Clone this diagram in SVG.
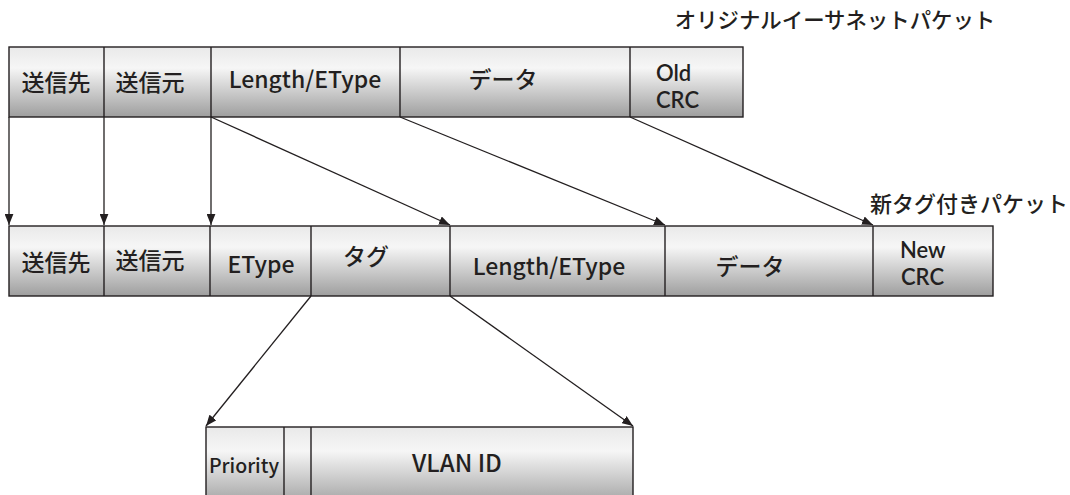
<svg xmlns="http://www.w3.org/2000/svg" width="1070" height="495" viewBox="0 0 1070 495">
<style>
.box{fill:url(#g);stroke:#231f20;stroke-width:1.4}
.div{stroke:#231f20;stroke-width:1.4}
.t{font-family:"Noto Sans CJK JP","Noto Sans",sans-serif;font-weight:500;fill:#231f20;text-anchor:middle}
.l{font-family:Lato,"Noto Sans",sans-serif;font-weight:600;font-size:22px;fill:#231f20;text-anchor:start}
.c{stroke:#231f20;stroke-width:1.3;fill:none;marker-end:url(#ah)}
</style>
<defs>
<linearGradient id="g" x1="0" y1="0" x2="0" y2="1">
<stop offset="0" stop-color="#e9e9e9"/>
<stop offset="0.3" stop-color="#f6f6f6"/>
<stop offset="1" stop-color="#9e9e9e"/>
</linearGradient>
<marker id="ah" viewBox="0 0 10 8" refX="10" refY="4" markerWidth="11" markerHeight="9" markerUnits="userSpaceOnUse" orient="auto">
<path d="M0,0 L10,4 L0,8 Z" fill="#231f20"/>
</marker>
</defs>

<text class="t" x="835" y="28" font-size="21.4">オリジナルイーサネットパケット</text>
<text class="t" x="969" y="212" font-size="22">新タグ付きパケット</text>

<g id="orig">
<rect class="box" x="9" y="47" width="734" height="70"/>
<line class="div" x1="104" y1="47" x2="104" y2="117"/>
<line class="div" x1="211" y1="47" x2="211" y2="117"/>
<line class="div" x1="400" y1="47" x2="400" y2="117"/>
<line class="div" x1="630" y1="47" x2="630" y2="117"/>
<text class="t" x="56" y="91" font-size="23">送信先</text>
<text class="t" x="150" y="91" font-size="23">送信元</text>
<text class="t" x="305" y="88" font-size="23">Length/EType</text>
<text class="t" x="503" y="88" font-size="23">データ</text>
<text class="l" x="656" y="81">Old</text>
<text class="l" x="656" y="108">CRC</text>
</g>

<g id="tagged">
<rect class="box" x="9" y="226" width="984" height="70"/>
<line class="div" x1="104" y1="226" x2="104" y2="296"/>
<line class="div" x1="210" y1="226" x2="210" y2="296"/>
<line class="div" x1="311" y1="226" x2="311" y2="296"/>
<line class="div" x1="450" y1="226" x2="450" y2="296"/>
<line class="div" x1="665" y1="226" x2="665" y2="296"/>
<line class="div" x1="873" y1="226" x2="873" y2="296"/>
<text class="t" x="56" y="271" font-size="23">送信先</text>
<text class="t" x="150" y="269" font-size="23">送信元</text>
<text class="t" x="261" y="273" font-size="23">EType</text>
<text class="t" x="366" y="265" font-size="23">タグ</text>
<text class="t" x="549" y="275" font-size="23">Length/EType</text>
<text class="t" x="750" y="275" font-size="23">データ</text>
<text class="l" x="900" y="258">New</text>
<text class="l" x="901" y="285">CRC</text>
</g>

<g id="tag">
<rect class="box" x="206" y="427" width="427" height="80"/>
<line class="div" x1="284" y1="427" x2="284" y2="507"/>
<line class="div" x1="311" y1="427" x2="311" y2="507"/>
<text class="t" x="244" y="473" font-size="19.5">Priority</text>
<text class="t" x="457" y="472" font-size="24">VLAN ID</text>
</g>

<g id="connectors">
<line class="c" x1="9" y1="117" x2="9" y2="225"/>
<line class="c" x1="104" y1="117" x2="104" y2="225"/>
<line class="c" x1="211" y1="117" x2="211" y2="225"/>
<line class="c" x1="211" y1="117" x2="450" y2="225"/>
<line class="c" x1="400" y1="117" x2="665" y2="225"/>
<line class="c" x1="630" y1="117" x2="873" y2="225"/>
<line class="c" x1="311" y1="296" x2="206" y2="426"/>
<line class="c" x1="450" y1="296" x2="633" y2="426"/>
</g>
</svg>
